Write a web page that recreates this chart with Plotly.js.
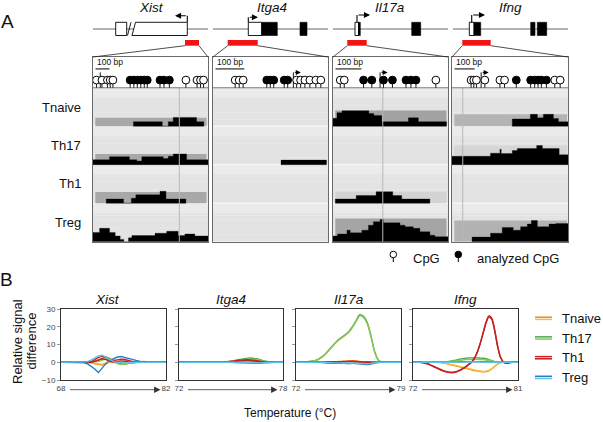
<!DOCTYPE html>
<html><head><meta charset="utf-8">
<script src="https://cdn.plot.ly/plotly-3.0.1.min.js"></script>
<style>html,body{margin:0;padding:0;background:#fff;}#chart{width:603px;height:422px;}</style>
</head><body><div id="chart"></div>
<script>
// ================= DATA =================
const genes = ['Xist', 'Itga4', 'Il17a', 'Ifng'];
const cellTypes = ['Tnaive', 'Th17', 'Th1', 'Treg'];

// ---- Panel A: CpG sites along each amplicon window ----
const xistCpG = [3.5, 9, 14.5, 17.3, 20, 93.3, 104.5, 108, 111];
const xistAnalyzedCpG = [37.3, 41, 44.5, 48, 51.5, 54.5, 67.3, 71.3, 76.7];
const itga4CpG = [22.3, 26.3, 30.3, 84, 88, 92.3, 97.3, 103.3, 108.3];
const itga4AnalyzedCpG = [54, 57.5, 61, 71.5, 75];
const il17aCpG = [7.3, 11.3, 103.3];
const il17aAnalyzedCpG = [30.7, 39, 50.7, 59.7, 73.3, 78.3, 83.3];
const ifngCpG = [19, 21.7, 24.3, 32.7, 47.7, 52.3, 102.3, 107.7];
const ifngAnalyzedCpG = [64, 78.3, 82.3, 85.7, 89, 94];

const tssPositions = [7.3, 80.7, 47.3, 29];
const tssDirections = [-1, 1, 1, 1];
const tssGuides = [86.7, null, 50, 10.7];
const scaleBar100bp = [14, 29, 26, 20];

// reference band heights per row (Tnaive, Th17, Th1, Treg)
const bandStart = [2.3, 0, 2.3, 2.3];
const bandEnd = [114, 0, 114, 114.5];
const xistBand = [0.22, 0.28, 0.29, 0];
const itga4Band = [0, 0, 0, 0];
const il17aBand = [0.41, 0, 0.30, 0.6];
const ifngBand = [0.31, 0.5, 0, 0.55];

// methylation profiles: step edges and levels (fraction of row)
const xistTnaiveEdges = [40.6, 69.6, 75.6, 80.6, 104, 111.3];
const xistTnaiveLevels = [0.12, 0, 0.12, 0.23, 0.12];
const xistTh17Edges = [0, 16.6, 36.6, 44, 49, 70.6, 75.6, 80.6, 94, 115.5];
const xistTh17Levels = [0.13, 0.21, 0.13, 0.10, 0.21, 0.16, 0.22, 0.28, 0.13];
const xistTh1Edges = [13.3, 30.7, 38.5, 43, 67.3, 73.3, 93.3];
const xistTh1Levels = [0.11, 0, 0.13, 0.22, 0.31, 0.11];
const xistTregEdges = [0, 6.6, 16.6, 22.3, 27.3, 31, 35.6, 39, 62.3, 74, 85.6, 92.3, 102.3, 115.5];
const xistTregLevels = [0.24, 0.35, 0.24, 0.15, 0.06, 0, 0.10, 0.16, 0.22, 0.27, 0.16, 0.20, 0.15];

const itga4TnaiveEdges = [];
const itga4TnaiveLevels = [];
const itga4Th17Edges = [68.3, 114];
const itga4Th17Levels = [0.12];
const itga4Th1Edges = [];
const itga4Th1Levels = [];
const itga4TregEdges = [];
const itga4TregLevels = [];

const il17aTnaiveEdges = [0, 4, 9, 36, 41, 49, 75.7, 85.7, 114];
const il17aTnaiveLevels = [0.21, 0.35, 0.40, 0.33, 0.28, 0.12, 0.22, 0.12];
const il17aTh17Edges = [];
const il17aTh17Levels = [];
const il17aTh1Edges = [2.3, 23.3, 43.3, 60, 69, 97.3];
const il17aTh1Levels = [0.11, 0.20, 0.30, 0.20, 0.11];
const il17aTregEdges = [0, 4.6, 14, 17.3, 29, 35.6, 40.6, 47.3, 50.6, 67.3, 72.3, 80.6, 87.3, 97.3, 102.3, 115.5];
const il17aTregLevels = [0.15, 0.20, 0.30, 0.23, 0.30, 0.43, 0.52, 0.58, 0.49, 0.43, 0.39, 0.35, 0.26, 0.17, 0.13];

const ifngTnaiveEdges = [60, 78, 85, 91, 101, 106, 115.5];
const ifngTnaiveLevels = [0.19, 0.31, 0.22, 0.31, 0.20, 0.12];
const ifngTh17Edges = [0, 38.3, 47.7, 49, 60, 65, 84.3, 90, 106.7, 115.5];
const ifngTh17Levels = [0.22, 0.30, 0.40, 0.29, 0.37, 0.42, 0.50, 0.42, 0.26];
const ifngTh1Edges = [];
const ifngTh1Levels = [];
const ifngTregEdges = [20, 38.3, 50, 61, 68.3, 75, 79, 85, 96.6, 103.3, 115.5];
const ifngTregLevels = [0.12, 0.22, 0.37, 0.30, 0.39, 0.46, 0.55, 0.39, 0.46, 0.47];

// ---- Panel B: relative signal difference vs temperature ----
const xistTemps = [68,68.5,69,69.5,70,70.5,71,71.5,72,72.5,73,73.5,74,74.5,75,75.5,76,76.5,77,77.5,78,78.5,79,79.5,80,80.5,81,81.5,82];
const xistTnaive1 = [0,0,0,0,0,0,0,0,-0.3,-0.8,-1.3,-1.6,-0.8,0.2,0.6,0.2,-0.4,-0.6,-0.4,-0.1,0,0.3,0.5,0.3,0,0,0,0,0];
const xistTnaive2 = [0,0,0,0,0,0,0,0,0,-0.4,-0.8,-1.0,-0.4,0.3,0.2,-0.3,-0.8,-1.0,-0.6,-0.2,0,0.2,0.3,0.2,0,0,0,0,0];
const xistTh17a = [0,0,0,0,0,0,0,0,0,0.4,1.2,2.4,3.0,2.2,0.8,-0.3,-0.9,-1.0,-0.6,-0.1,0,0,0,0,0,0,0,0,0];
const xistTh17b = [0,0,0,0,0,0,0,0,0,0,0.4,1.2,1.8,1.2,0.2,-0.7,-1.3,-1.1,-0.4,0,0,0,0,0,0,0,0,0,0];
const xistTh1a = [0,0,0,0,0,0,0,0,0.3,1.5,2.8,3.5,2.6,1.5,1.0,1.4,1.8,1.6,1.0,0.4,0,0,0,0,0,0,0,0,0];
const xistTh1b = [0,0,0,0,0,0,0,0,0,0.6,1.4,2.0,1.6,0.6,0.2,0.5,0.8,0.6,0.2,0,0,0,0,0,0,0,0,0,0];
const xistTreg1 = [0,0,0,0,0,0,0,-0.8,-2.2,-3.8,-5.8,-3.2,-0.6,1.0,2.2,3.0,3.3,2.9,2.3,1.7,1.1,0.5,0.1,0,0,0,0,0,0];
const xistTreg2 = [0,0,0,0,0,0,0,0.4,1.2,2.4,3.6,4.0,2.8,1.4,0.5,0,-0.3,-0.3,-0.1,0,0,0,0,0,0,0,0,0,0];

const itga4Temps = [72,72.5,73,73.5,74,74.5,75,75.5,76,76.5,77,77.5,78];
const itga4Tnaive1 = [0,0,0,0,0,0,0.2,0.4,0.6,0.3,0,0,0];
const itga4Tnaive2 = [0,0,0,0,0,0,0.1,0.2,0.3,0.2,0,0,0];
const itga4Th17a = [0,0,0,0,0,0.1,0.6,1.6,2.4,2.0,0.6,0,0];
const itga4Th17b = [0,0,0,0,0,0.1,0.4,1.1,1.8,1.5,0.4,0,0];
const itga4Th1a = [0,0,0,0,0,0.1,0.6,1.2,1.5,0.9,0.2,0,0];
const itga4Th1b = [0,0,0,0,0,0,0.3,0.8,1.0,0.6,0.1,0,0];
const itga4Treg1 = [0,0,0,0,0,0,0,-0.2,-0.4,-0.6,-0.2,0,0];
const itga4Treg2 = [0,0,0,0,0,0,0,-0.1,-0.2,-0.3,-0.1,0,0];

const il17aTemps = [72,72.25,72.5,72.75,73,73.25,73.5,73.75,74,74.25,74.5,74.75,75,75.25,75.5,75.75,76,76.25,76.5,76.75,77,77.25,77.5,77.75,78,78.25,78.5,78.75,79];
const il17aTnaive1 = [0,0,0,0,0,0,0,0,0.1,0.2,0.3,0.4,0.5,0.6,0.8,0.9,0.8,0.5,0.3,0.2,0.1,0,0,0,0,0,0,0,0];
const il17aTnaive2 = [0,0,0,0,0,0,0,0,0,0.1,0.2,0.3,0.3,0.4,0.5,0.5,0.4,0.3,0.2,0.1,0,0,0,0,0,0,0,0,0];
const il17aTh17a = [0,0,0.1,0.3,0.6,1.0,1.8,3.2,5.2,7.5,10.0,12.2,13.9,15.4,17.2,20.0,23.5,26.9,26.0,22.5,15.0,6.0,1.2,0.1,0,0,0,0,0];
const il17aTh17b = [0,0,0.1,0.2,0.5,0.9,1.6,3.0,4.9,7.2,9.7,11.8,13.5,15.0,16.8,19.5,23.0,26.3,25.4,21.8,14.4,5.6,1.0,0.1,0,0,0,0,0];
const il17aTh1a = [0,0,0,0,0,0,0,0,0.1,0.2,0.3,0.3,0.4,0.5,0.6,0.7,0.5,0.3,0.2,0.2,0.1,0,0,0,0,0,0,0,0];
const il17aTh1b = [0,0,0,0,0,0,0,0,0,0.1,0.1,0.2,0.2,0.3,0.4,0.4,0.3,0.2,0.1,0.1,0,0,0,0,0,0,0,0,0];
const il17aTreg1 = [0,0,0,0,0,0,0,-0.1,-0.3,-0.5,-0.6,-0.6,-0.5,-0.6,-0.7,-0.6,-0.7,-0.9,-1.1,-1.3,-1.0,-0.4,-0.1,0,0,0,0,0,0];
const il17aTreg2 = [0,0,0,0,0,0,0,0,-0.1,-0.2,-0.3,-0.3,-0.3,-0.4,-0.4,-0.4,-0.5,-0.6,-0.7,-0.8,-0.6,-0.2,0,0,0,0,0,0,0];

const ifngTemps = [72,72.25,72.5,72.75,73,73.25,73.5,73.75,74,74.25,74.5,74.75,75,75.25,75.5,75.75,76,76.25,76.5,76.75,77,77.25,77.5,77.75,78,78.25,78.5,78.75,79,79.25,79.5,79.75,80,80.25,80.5,80.75,81];
const ifngTnaive1 = [0,0,0,0,0,0,0,0,0,0,-0.3,-0.6,-1.0,-1.4,-1.8,-2.2,-2.6,-3.0,-3.4,-3.8,-4.2,-4.6,-4.9,-5.2,-5.4,-5.3,-4.8,-3.8,-2.4,-1.0,-0.2,0,0,0,0,0,0];
const ifngTnaive2 = [0,0,0,0,0,0,0,0,0,0,-0.2,-0.5,-0.8,-1.2,-1.5,-1.9,-2.3,-2.7,-3.1,-3.5,-3.9,-4.3,-4.6,-4.9,-5.1,-5.0,-4.5,-3.5,-2.2,-0.9,-0.2,0,0,0,0,0,0];
const ifngTh17a = [0,0,0,0,0,0,0,0,0,0,0,0.2,0.4,0.7,1.0,1.4,1.8,2.1,2.3,2.5,2.5,2.5,2.5,2.4,2.3,2.0,1.5,0.9,0.4,0.1,0,0,0,0,0,0,0];
const ifngTh17b = [0,0,0,0,0,0,0,0,0,0,0,0.1,0.3,0.5,0.7,0.9,1.1,1.3,1.5,1.6,1.7,1.7,1.7,1.6,1.5,1.3,1.0,0.6,0.3,0.1,0,0,0,0,0,0,0];
const ifngTh1a = [0,0,0,-0.1,-0.4,-0.9,-1.6,-2.4,-3.2,-4.0,-4.7,-5.3,-5.7,-5.9,-5.8,-5.4,-4.7,-3.8,-2.8,-1.5,-0.1,2.0,5.5,10.5,16.5,22.5,26.3,25.0,18.5,9.5,3.0,0.2,-0.5,-0.3,0,0,0];
const ifngTh1b = [0,0,0,-0.1,-0.3,-0.8,-1.4,-2.2,-3.0,-3.7,-4.4,-5.0,-5.4,-5.6,-5.5,-5.1,-4.4,-3.5,-2.5,-1.2,0.1,2.2,5.6,10.4,16.2,22.0,25.6,24.3,17.8,9.0,2.7,0.1,-0.4,-0.2,0,0,0];
const ifngTreg1 = [0,0,0,0,0,0,0,0,0,0,0,0,0,0,0.1,0.2,0.3,0.3,0.4,0.4,0.4,0.4,0.4,0.4,0.3,0.3,0.2,0.1,0.1,0,0,0,0,0,0,0,0];
const ifngTreg2 = [0,0,0,0,0,0,0,0,0,0,0,0,0,0,0,0,0.1,0.1,0.1,0.2,0.2,0.2,0.2,0.1,0.1,0.1,0,0,0,0,0,0,0,0,0,0,0];

const yTicksB = [-10, 0, 10, 20, 30];

// ================= TABLES BUILT FROM DATA =================
const cpgOpen = [xistCpG, itga4CpG, il17aCpG, ifngCpG];
const cpgAnalyzed = [xistAnalyzedCpG, itga4AnalyzedCpG, il17aAnalyzedCpG, ifngAnalyzedCpG];
const bands = [xistBand, itga4Band, il17aBand, ifngBand];
const profiles = [
  [[xistTnaiveEdges, xistTnaiveLevels], [xistTh17Edges, xistTh17Levels], [xistTh1Edges, xistTh1Levels], [xistTregEdges, xistTregLevels]],
  [[itga4TnaiveEdges, itga4TnaiveLevels], [itga4Th17Edges, itga4Th17Levels], [itga4Th1Edges, itga4Th1Levels], [itga4TregEdges, itga4TregLevels]],
  [[il17aTnaiveEdges, il17aTnaiveLevels], [il17aTh17Edges, il17aTh17Levels], [il17aTh1Edges, il17aTh1Levels], [il17aTregEdges, il17aTregLevels]],
  [[ifngTnaiveEdges, ifngTnaiveLevels], [ifngTh17Edges, ifngTh17Levels], [ifngTh1Edges, ifngTh1Levels], [ifngTregEdges, ifngTregLevels]]
];
const tempsB = [xistTemps, itga4Temps, il17aTemps, ifngTemps];
const seriesB = [
  [[xistTnaive1, xistTnaive2], [xistTh17a, xistTh17b], [xistTh1a, xistTh1b], [xistTreg1, xistTreg2]],
  [[itga4Tnaive1, itga4Tnaive2], [itga4Th17a, itga4Th17b], [itga4Th1a, itga4Th1b], [itga4Treg1, itga4Treg2]],
  [[il17aTnaive1, il17aTnaive2], [il17aTh17a, il17aTh17b], [il17aTh1a, il17aTh1b], [il17aTreg1, il17aTreg2]],
  [[ifngTnaive1, ifngTnaive2], [ifngTh17a, ifngTh17b], [ifngTh1a, ifngTh1b], [ifngTreg1, ifngTreg2]]
];

// ================= STYLE / LAYOUT GEOMETRY =================
const W = 603, H = 422;
const px = v => v / W, py = v => 1 - v / H;
const FONT = 'Liberation Sans, Arial, Helvetica, sans-serif';
const repColors = [['#f08c1e', '#f7c03c'], ['#4aa84a', '#8cc850'], ['#e3191b', '#b82520'], ['#2a7cc0', '#5cc2e8']];
const bandColors = [['#a8a8a8', '#a8a8a8', '#a8a8a8', '#a8a8a8'], ['#a8a8a8', '#a8a8a8', '#a8a8a8', '#a8a8a8'],
                    ['#a2a2a2', '#a8a8a8', '#d3d3d3', '#a5a5a5'], ['#b4b4b4', '#d6d6d6', '#a8a8a8', '#b2b2b2']];
const aBoxes = [[93, 208], [213, 328], [333, 448], [452, 568]];
const aTop = 57, aBottom = 241.7;
const aXMax = 115.5, aYMax = 4.8;
const bBoxes = [[61, 166], [179, 283], [296, 401], [413, 518]];
const bTop = 309.3, bBottom = 380;

const traces = [], shapes = [], annotations = [];
const layout = {
  width: W, height: H, autosize: false, margin: {l: 0, r: 0, t: 0, b: 0},
  paper_bgcolor: '#ffffff', plot_bgcolor: 'rgba(0,0,0,0)', showlegend: false,
  font: {family: FONT, color: '#111'}, hovermode: false
};

function stepPath(edges, levels, base) {
  const xs = [], ys = [];
  if (!edges.length) return [xs, ys];
  xs.push(edges[0]); ys.push(base);
  for (let i = 0; i < levels.length; i++) {
    xs.push(edges[i], edges[i + 1]); ys.push(base + levels[i], base + levels[i]);
  }
  xs.push(edges[edges.length - 1], edges[0]); ys.push(base, base);
  return [xs, ys];
}
function ann(o) { annotations.push(Object.assign({showarrow: false, font: {family: FONT, size: 13, color: '#111'}}, o)); }

// ---------- Panel A ----------
genes.forEach((g, gi) => {
  const k = gi === 0 ? '' : String(gi + 1);
  const xa = 'x' + k, ya = 'y' + k;
  layout['xaxis' + k] = {domain: [px(aBoxes[gi][0]), px(aBoxes[gi][1])], range: [0, aXMax], anchor: ya,
    showgrid: false, zeroline: false, showticklabels: false, ticks: '', showline: true, mirror: true,
    linecolor: '#6a6a6a', linewidth: 1.2, fixedrange: true};
  layout['yaxis' + k] = {domain: [py(aBottom), py(aTop)], range: [0, aYMax], anchor: xa,
    showgrid: false, zeroline: false, showticklabels: false, ticks: '', showline: true, mirror: true,
    linecolor: '#6a6a6a', linewidth: 1.2, fixedrange: true};
  const common = {xaxis: xa, yaxis: ya, hoverinfo: 'skip', type: 'scatter'};

  // row backgrounds
  const bx = [], by = [], tx = [], ty = [], sx = [], sy = [], wx = [], wy = [];
  for (let r = 0; r < cellTypes.length; r++) {
    bx.push(0, aXMax, aXMax, 0, 0, null); by.push(r, r, r + 1, r + 1, r, null);
    tx.push(0, aXMax, aXMax, 0, 0, null); ty.push(r + 0.74, r + 0.74, r + 1, r + 1, r + 0.74, null);
    [0.18, 0.36, 0.55, 0.68, 0.84, 0.92].forEach(f => { sx.push(0, aXMax, null); sy.push(r + f, r + f, null); });
    if (r > 0) { wx.push(0, aXMax, null); wy.push(r, r, null); }
  }
  traces.push(Object.assign({x: bx, y: by, mode: 'lines', fill: 'toself', fillcolor: '#e3e3e3', line: {width: 0}}, common));
  traces.push(Object.assign({x: tx, y: ty, mode: 'lines', fill: 'toself', fillcolor: '#eaeaea', line: {width: 0}}, common));
  traces.push(Object.assign({x: sx, y: sy, mode: 'lines', line: {width: 1, color: 'rgba(255,255,255,0.16)'}}, common));
  traces.push(Object.assign({x: wx, y: wy, mode: 'lines', line: {width: 1.6, color: '#f6f6f6'}}, common));

  cellTypes.forEach((c, ci) => {
    const base = cellTypes.length - 1 - ci;
    const h = bands[gi][ci];
    if (h > 0) {
      traces.push(Object.assign({x: [bandStart[gi], bandEnd[gi], bandEnd[gi], bandStart[gi], bandStart[gi]],
        y: [base, base, base + h, base + h, base], mode: 'lines', fill: 'toself',
        fillcolor: bandColors[gi][ci], line: {width: 0}}, common));
    }
    const [e, l] = profiles[gi][ci];
    const [pxs, pys] = stepPath(e, l, base);
    if (pxs.length) {
      traces.push(Object.assign({x: pxs, y: pys, mode: 'lines', fill: 'toself', fillcolor: '#000000',
        line: {width: 0.3, color: '#000'}}, common));
    }
  });

  // TSS guide line
  if (tssGuides[gi] !== null) {
    traces.push(Object.assign({x: [tssGuides[gi], tssGuides[gi]], y: [0, cellTypes.length], mode: 'lines',
      line: {width: 1, color: '#b9b9b9'}}, common));
  }
  // baseline of CpG track
  traces.push(Object.assign({x: [0, aXMax], y: [4, 4], mode: 'lines', line: {width: 1, color: '#7a7a7a'}}, common));

  // lollipop stems
  const stx = [], sty = [];
  cpgOpen[gi].concat(cpgAnalyzed[gi]).forEach(p => { stx.push(p, p, null); sty.push(4, 4.12, null); });
  traces.push(Object.assign({x: stx, y: sty, mode: 'lines', line: {width: 0.9, color: '#000'}, cliponaxis: false}, common));
  // TSS flag stem
  traces.push(Object.assign({x: [tssPositions[gi], tssPositions[gi]], y: [4, 4.4], mode: 'lines',
    line: {width: 0.9, color: '#000'}}, common));
  annotations.push({xref: xa, yref: ya, x: tssPositions[gi] + tssDirections[gi] * 7.5, y: 4.4,
    ax: -tssDirections[gi] * 7.5, ay: 0, text: '', showarrow: true, arrowhead: 2, arrowsize: 1, arrowwidth: 1,
    arrowcolor: '#000', standoff: 0});
  // circles
  traces.push(Object.assign({x: cpgOpen[gi], y: cpgOpen[gi].map(() => 4.2), mode: 'markers', cliponaxis: false,
    marker: {symbol: 'circle', size: 7.8, color: '#ffffff', line: {width: 1, color: '#000'}}}, common));
  traces.push(Object.assign({x: cpgAnalyzed[gi], y: cpgAnalyzed[gi].map(() => 4.2), mode: 'markers', cliponaxis: false,
    marker: {symbol: 'circle', size: 7.8, color: '#000000', line: {width: 1, color: '#000'}}}, common));

  // 100 bp scale bar
  shapes.push({type: 'line', xref: xa, yref: ya, x0: 2.5, x1: 2.5 + scaleBar100bp[gi], y0: 4.49, y1: 4.49,
    line: {width: 1, color: '#000'}});
  ann({xref: xa, yref: ya, x: 2.3, y: 4.66, xanchor: 'left', yanchor: 'middle', text: '100 bp',
    font: {family: FONT, size: 8.5, color: '#111'}});
});

// row labels
cellTypes.forEach((c, ci) => {
  ann({xref: 'paper', yref: 'y', x: px(83), y: cellTypes.length - 1 - ci + 0.5, xanchor: 'right', yanchor: 'middle', text: c});
});

// gene structures (schematic)
const geneLines = [[93, 208], [213, 328], [333, 448], [453, 568]];
const exonsWhite = [[[115.7, 126.7]], [[248.3, 261.7]], [[355, 358.5]], [[469.3, 474]]];
const exonsBlack = [[], [[261.7, 277.3], [300, 307]], [[358.5, 360.3], [411.7, 420.7]], [[474, 480.7], [530.7, 535], [537.3, 546.7]]];
const redBars = [[185, 199], [227.7, 257.7], [347.3, 366.7], [462.3, 490.7]];
const tssArrows = [[187.3, 15.7, 175], [248.3, 17.3, 258], [357, 15, 370], [471.7, 15, 485]];
const geneNameX = [151.7, 271.7, 389.7, 510.8];
const gy = 29, ey0 = 22.3, ey1 = 35.5;
genes.forEach((g, gi) => {
  shapes.push({type: 'line', xref: 'paper', yref: 'paper', x0: px(geneLines[gi][0]), x1: px(geneLines[gi][1]),
    y0: py(gy), y1: py(gy), line: {width: 1.6, color: '#9a9a9a'}});
  exonsWhite[gi].forEach(e => shapes.push({type: 'rect', xref: 'paper', yref: 'paper', x0: px(e[0]), x1: px(e[1]),
    y0: py(ey1), y1: py(ey0), fillcolor: '#fff', line: {width: 0.9, color: '#000'}}));
  exonsBlack[gi].forEach(e => shapes.push({type: 'rect', xref: 'paper', yref: 'paper', x0: px(e[0]), x1: px(e[1]),
    y0: py(ey1), y1: py(ey0), fillcolor: '#000', line: {width: 0.6, color: '#000'}}));
  const rb = redBars[gi];
  shapes.push({type: 'rect', xref: 'paper', yref: 'paper', x0: px(rb[0]), x1: px(rb[1]), y0: py(45.7), y1: py(40),
    fillcolor: '#f01414', line: {width: 0}});
  shapes.push({type: 'line', xref: 'paper', yref: 'paper', x0: px(rb[0]), x1: px(aBoxes[gi][0]), y0: py(45.7), y1: py(aTop),
    line: {width: 0.8, color: '#222'}});
  shapes.push({type: 'line', xref: 'paper', yref: 'paper', x0: px(rb[1]), x1: px(aBoxes[gi][1]), y0: py(45.7), y1: py(aTop),
    line: {width: 0.8, color: '#222'}});
  const ta = tssArrows[gi];
  shapes.push({type: 'line', xref: 'paper', yref: 'paper', x0: px(ta[0]), x1: px(ta[0]), y0: py(ey0), y1: py(ta[1]),
    line: {width: 1.1, color: '#000'}});
  annotations.push({xref: 'paper', yref: 'paper', x: px(ta[2]), y: py(ta[1]), ax: ta[0] - ta[2], ay: 0, text: '',
    showarrow: true, arrowhead: 2, arrowsize: 1.1, arrowwidth: 1.1, arrowcolor: '#000', standoff: 0});
  ann({xref: 'paper', yref: 'paper', x: px(geneNameX[gi]), y: py(8), xanchor: 'center', yanchor: 'middle',
    text: '<i>' + g + '</i>', font: {family: FONT, size: 13.5, color: '#111'}});
});
// Xist second exon with break mark
shapes.push({type: 'path', xref: 'paper', yref: 'paper', fillcolor: '#fff', line: {width: 0.9, color: '#000'},
  path: `M ${px(132)} ${py(ey1)} L ${px(135.5)} ${py(ey0)} L ${px(187.3)} ${py(ey0)} L ${px(187.3)} ${py(ey1)} Z`});
shapes.push({type: 'line', xref: 'paper', yref: 'paper', x0: px(127.5), x1: px(131), y0: py(ey1), y1: py(ey0),
  line: {width: 0.9, color: '#000'}});

// legend A
[[393.3, '#fff', 'CpG', 411.5], [458.3, '#000', 'analyzed CpG', 475]].forEach(([x, f, t, tx]) => {
  shapes.push({type: 'line', xref: 'paper', yref: 'paper', x0: px(x), x1: px(x), y0: py(257.5), y1: py(262),
    line: {width: 1, color: '#000'}});
  shapes.push({type: 'circle', xref: 'paper', yref: 'paper', x0: px(x - 3.3), x1: px(x + 3.3), y0: py(257.8), y1: py(251.2),
    fillcolor: f, line: {width: 1, color: '#000'}});
  ann({xref: 'paper', yref: 'paper', x: px(tx), y: py(258.5), xanchor: 'left', yanchor: 'middle', text: t});
});

// panel letters
ann({xref: 'paper', yref: 'paper', x: px(7.5), y: py(21), xanchor: 'center', yanchor: 'middle', text: 'A', font: {family: FONT, size: 19, color: '#111'}});
ann({xref: 'paper', yref: 'paper', x: px(7), y: py(279), xanchor: 'center', yanchor: 'middle', text: 'B', font: {family: FONT, size: 19, color: '#111'}});

// ---------- Panel B ----------
genes.forEach((g, gi) => {
  const k = String(gi + 5);
  const xa = 'x' + k, ya = 'y' + k;
  const t = tempsB[gi];
  const lo = t[0], hi = t[t.length - 1];
  layout['xaxis' + k] = {domain: [px(bBoxes[gi][0]), px(bBoxes[gi][1])], range: [lo, hi], anchor: ya,
    showgrid: false, zeroline: false, showline: true, mirror: true, linecolor: '#333', linewidth: 1,
    tickvals: [lo, hi], ticktext: [String(lo), String(hi)], ticks: '', tickfont: {family: FONT, size: 8, color: '#444'},
    fixedrange: true};
  layout['yaxis' + k] = {domain: [py(bBottom), py(bTop)], range: [yTicksB[0], yTicksB[yTicksB.length - 1]], anchor: xa,
    showgrid: false, zeroline: false, showline: true, mirror: true, linecolor: '#333', linewidth: 1,
    tickvals: yTicksB, ticks: 'outside', ticklen: 3, tickwidth: 1, tickcolor: '#999',
    showticklabels: gi === 0, tickfont: {family: FONT, size: 8, color: '#444'}, fixedrange: true};
  cellTypes.forEach((c, ci) => {
    seriesB[gi][ci].forEach((vals, ri) => {
      traces.push({type: 'scatter', mode: 'lines', x: t, y: vals, xaxis: xa, yaxis: ya, hoverinfo: 'skip',
        line: {color: repColors[ci][ri], width: 1.4, shape: gi === 0 ? 'linear' : 'spline', smoothing: 0.8}});
    });
  });
  // arrow under axis
  annotations.push({xref: 'paper', yref: 'paper', x: px(bBoxes[gi][1] - 5.5), y: py(389.7),
    ax: -(bBoxes[gi][1] - bBoxes[gi][0] - 13), ay: 0, text: '', showarrow: true, arrowhead: 2, arrowsize: 1.6,
    arrowwidth: 0.8, arrowcolor: '#333', standoff: 0});
  const titleX = gi === 0 ? 107.5 : (bBoxes[gi][0] + bBoxes[gi][1]) / 2;
  ann({xref: 'paper', yref: 'paper', x: px(titleX), y: py(299.5), xanchor: 'center', yanchor: 'middle',
    text: '<i>' + g + '</i>', font: {family: FONT, size: 13.5, color: '#111'}});
});

ann({xref: 'paper', yref: 'paper', x: px(17.5), y: py(341.5), xanchor: 'center', yanchor: 'middle', textangle: -90,
  text: 'Relative signal', font: {family: FONT, size: 13, color: '#111'}});
ann({xref: 'paper', yref: 'paper', x: px(31), y: py(341.5), xanchor: 'center', yanchor: 'middle', textangle: -90,
  text: 'difference', font: {family: FONT, size: 13, color: '#111'}});
ann({xref: 'paper', yref: 'paper', x: px(290), y: py(413.3), xanchor: 'center', yanchor: 'middle',
  text: 'Temperature (°C)', font: {family: FONT, size: 12, color: '#111'}});

// legend B
cellTypes.forEach((c, ci) => {
  const y = 318.3 + ci * 19.7;
  shapes.push({type: 'line', xref: 'paper', yref: 'paper', x0: px(535), x1: px(552), y0: py(y - 1.1), y1: py(y - 1.1),
    line: {width: 1.5, color: repColors[ci][0]}});
  shapes.push({type: 'line', xref: 'paper', yref: 'paper', x0: px(535), x1: px(552), y0: py(y + 1.1), y1: py(y + 1.1),
    line: {width: 1.5, color: repColors[ci][1]}});
  ann({xref: 'paper', yref: 'paper', x: px(559.5), y: py(y), xanchor: 'left', yanchor: 'middle', text: c});
});

layout.shapes = shapes;
layout.annotations = annotations;
Plotly.newPlot('chart', traces, layout, {displayModeBar: false, staticPlot: true});
</script>
</body></html>
